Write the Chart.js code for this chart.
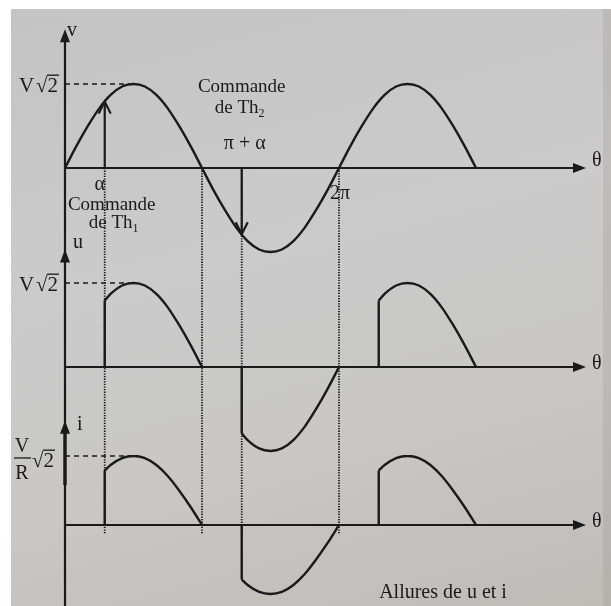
<!DOCTYPE html>
<html lang="fr">
<head>
    <meta charset="UTF-8">
    <title>Allures de u et i</title>
    <style>
        html, body { margin: 0; padding: 0; background: #fff; }
        #wrap { position: relative; width: 611px; height: 606px; overflow: hidden; }
        #paper {
            position: absolute; left: 11px; top: 9px; right: 0; bottom: 0;
            background: linear-gradient(165deg, #c4c4c5 0%, #cbcbcb 40%, #c8c7c6 70%, #bfbbb7 100%);
        }
        #edge { position: absolute; left: 603px; top: 9px; width: 8px; bottom: 0; background: rgba(150, 146, 142, 0.25); }
        #chart { position: absolute; left: 0; top: 0; }
    </style>
</head>
<body>
    <div id="wrap">
        <div id="paper"></div>
        <div id="edge"></div>
        <canvas id="chart" width="611" height="606"></canvas>
    </div>

    <script src="https://cdn.jsdelivr.net/npm/chart.js"></script>
    <script>
        // θ sampled every π/12, in multiples of π
        const theta = [0, 0.083, 0.167, 0.25, 0.333, 0.417, 0.5, 0.583, 0.667, 0.75, 0.833, 0.917,
                       1, 1.083, 1.167, 1.25, 1.333, 1.417, 1.5, 1.583, 1.667, 1.75, 1.833, 1.917,
                       2, 2.083, 2.167, 2.25, 2.333, 2.417, 2.5, 2.583, 2.667, 2.75, 2.833, 2.917, 3];

        // supply voltage v, in units of V√2
        const vValues = [0, 0.26, 0.5, 0.71, 0.87, 0.97, 1, 0.97, 0.87, 0.71, 0.5, 0.26,
                         0, -0.26, -0.5, -0.71, -0.87, -0.97, -1, -0.97, -0.87, -0.71, -0.5, -0.26,
                         0, 0.26, 0.5, 0.71, 0.87, 0.97, 1, 0.97, 0.87, 0.71, 0.5, 0.26, 0];

        // thyristor firing instants (α, π+α, 2π+α) and v at those instants
        const firing = [0.29, 1.29, 2.29];
        const vAtFiring = [0.79, -0.79, 0.79];
        // each conduction ends at the next zero of v
        const conductionEnd = [1, 2, 3];

        // labels on the θ axis
        const markTheta = [0.29, 1.29, 2];
        const markLabels = ['α', 'π + α', '2π'];

        const INK = '#1a1a1a';
        const SERIF = '"Liberation Serif", "DejaVu Serif", serif';

        // u (and i = u/R) : one hump per conduction interval
        function humps() {
            return firing.map((f, k) => {
                const pts = [{ x: f, y: vAtFiring[k] }];
                theta.forEach((t, j) => {
                    if (t > f && t <= conductionEnd[k]) pts.push({ x: t, y: vValues[j] });
                });
                return pts;
            });
        }

        function curve(data, axis, smooth) {
            return {
                data: data,
                yAxisID: axis,
                borderColor: INK,
                borderWidth: 2.4,
                pointRadius: 0,
                fill: false,
                tension: 0,
                cubicInterpolationMode: smooth ? 'monotone' : 'default'
            };
        }

        const datasets = [curve(theta.map((t, j) => ({ x: t, y: vValues[j] })), 'yv', true)];
        ['yu', 'yi'].forEach(axis => {
            humps().forEach(h => datasets.push(curve(h, axis, true)));
            firing.forEach((f, k) => datasets.push(curve([{ x: f, y: 0 }, { x: f, y: vAtFiring[k] }], axis, false)));
        });

        function filledHead(ctx, x, y, dir) {
            ctx.beginPath();
            if (dir === 'up') {
                ctx.moveTo(x, y); ctx.lineTo(x - 5, y + 13); ctx.lineTo(x + 5, y + 13);
            } else {
                ctx.moveTo(x, y); ctx.lineTo(x - 13, y - 5); ctx.lineTo(x - 13, y + 5);
            }
            ctx.closePath();
            ctx.fill();
        }

        // open "V" arrow head, dy = 1 pointing down, -1 pointing up
        function openHead(ctx, x, y, dy) {
            ctx.beginPath();
            ctx.moveTo(x - 6, y - dy * 12);
            ctx.lineTo(x, y);
            ctx.lineTo(x + 6, y - dy * 12);
            ctx.stroke();
        }

        // √2 with its overbar
        function root2(ctx, x, base, size) {
            ctx.font = size + 'px ' + SERIF;
            ctx.textAlign = 'left';
            ctx.fillText('√', x, base);
            const w = ctx.measureText('√').width;
            ctx.fillText('2', x + w, base);
            const w2 = ctx.measureText('2').width;
            ctx.lineWidth = 1.3;
            ctx.beginPath();
            ctx.moveTo(x + w - 0.5, base - size * 0.8);
            ctx.lineTo(x + w + w2 + 1, base - size * 0.8);
            ctx.stroke();
        }

        function text(ctx, str, x, y, size, align) {
            ctx.font = size + 'px ' + SERIF;
            ctx.textAlign = align || 'center';
            ctx.fillText(str, x, y);
        }

        // "de Th" with an index
        function thLabel(ctx, idx, cx, y) {
            ctx.font = '19px ' + SERIF;
            const w = ctx.measureText('de Th').width;
            ctx.font = '12px ' + SERIF;
            const ws = ctx.measureText(idx).width;
            const x0 = cx - (w + ws) / 2;
            text(ctx, 'de Th', x0, y, 19, 'left');
            text(ctx, idx, x0 + w, y + 4, 12, 'left');
        }

        const schema = {
            id: 'schema',
            beforeDatasetsDraw(chart) {
                const { ctx, chartArea } = chart;
                const x = chart.scales.x, yv = chart.scales.yv, yu = chart.scales.yu, yi = chart.scales.yi;
                ctx.save();
                ctx.strokeStyle = INK;

                // dotted guides at α, π, π+α, 2π
                ctx.lineWidth = 1.8;
                ctx.setLineDash([1.3, 1.3]);
                [firing[0], 1, firing[1], 2].forEach(t => {
                    const px = x.getPixelForValue(t);
                    ctx.beginPath();
                    ctx.moveTo(px, yv.getPixelForValue(0));
                    ctx.lineTo(px, yi.getPixelForValue(-0.12));
                    ctx.stroke();
                });

                // dashed peak levels
                ctx.lineWidth = 1.4;
                ctx.setLineDash([5, 4]);
                [yv, yu, yi].forEach(s => {
                    const py = s.getPixelForValue(1);
                    ctx.beginPath();
                    ctx.moveTo(chartArea.left, py);
                    ctx.lineTo(x.getPixelForValue(0.47), py);
                    ctx.stroke();
                });
                ctx.setLineDash([]);

                // vertical axis, shared by the three graphs
                const x0 = x.getPixelForValue(0);
                ctx.lineWidth = 2.2;
                ctx.beginPath();
                ctx.moveTo(x0, yv.getPixelForValue(1.6));
                ctx.lineTo(x0, chart.height);
                ctx.stroke();
                ctx.lineWidth = 3.4;
                ctx.beginPath();
                ctx.moveTo(x0, yi.getPixelForValue(1.45));
                ctx.lineTo(x0, yi.getPixelForValue(0.58));
                ctx.stroke();

                // θ axes
                ctx.lineWidth = 2.2;
                [yv, yu, yi].forEach(s => {
                    const py = s.getPixelForValue(0);
                    ctx.beginPath();
                    ctx.moveTo(x0, py);
                    ctx.lineTo(chartArea.right - 8, py);
                    ctx.stroke();
                });
                ctx.restore();
            },
            afterDatasetsDraw(chart) {
                const { ctx, chartArea } = chart;
                const x = chart.scales.x, yv = chart.scales.yv, yu = chart.scales.yu, yi = chart.scales.yi;
                const x0 = x.getPixelForValue(0);
                ctx.save();
                ctx.fillStyle = INK;
                ctx.strokeStyle = INK;
                ctx.textBaseline = 'alphabetic';

                // arrow heads of the axes
                filledHead(ctx, x0, yv.getPixelForValue(1.65), 'up');
                filledHead(ctx, x0, yu.getPixelForValue(1.4), 'up');
                filledHead(ctx, x0, yi.getPixelForValue(1.51), 'up');
                [yv, yu, yi].forEach(s => filledHead(ctx, chartArea.right, s.getPixelForValue(0), 'right'));

                // firing commands on v
                ctx.lineWidth = 2.2;
                [0, 1].forEach(k => {
                    const px = x.getPixelForValue(firing[k]);
                    const tip = yv.getPixelForValue(vAtFiring[k]);
                    ctx.beginPath();
                    ctx.moveTo(px, yv.getPixelForValue(0));
                    ctx.lineTo(px, tip);
                    ctx.stroke();
                    openHead(ctx, px, tip, vAtFiring[k] > 0 ? -1 : 1);
                });

                // axis names
                text(ctx, 'v', x0 + 2, yv.getPixelForValue(1.57), 20, 'left');
                text(ctx, 'u', x0 + 8, yu.getPixelForValue(1.42), 20, 'left');
                text(ctx, 'i', x0 + 12, yi.getPixelForValue(1.38), 20, 'left');
                [yv, yu, yi].forEach(s => text(ctx, 'θ', chartArea.right + 6, s.getPixelForValue(0) - 2 + (s === yv ? 0 : 4), 20, 'left'));

                // peak values
                [yv, yu].forEach(s => {
                    const base = s.getPixelForValue(1) + 8;
                    text(ctx, 'V', 19, base, 21, 'left');
                    root2(ctx, 36, base, 21);
                });
                const pi = yi.getPixelForValue(1);
                text(ctx, 'V', 22, pi - 4, 20, 'center');
                ctx.lineWidth = 1.3;
                ctx.beginPath();
                ctx.moveTo(14, pi + 2);
                ctx.lineTo(31, pi + 2);
                ctx.stroke();
                text(ctx, 'R', 22, pi + 23, 20, 'center');
                root2(ctx, 32, pi + 11, 21);

                // θ marks
                const vz = yv.getPixelForValue(0);
                text(ctx, markLabels[0], x.getPixelForValue(markTheta[0]) - 5, vz + 22, 20);
                text(ctx, markLabels[1], x.getPixelForValue(markTheta[1]) + 3, vz - 19, 20);
                text(ctx, markLabels[2], x.getPixelForValue(markTheta[2]) + 1, vz + 31, 20);

                // firing commands
                const a1 = x.getPixelForValue(firing[0]);
                text(ctx, 'Commande', a1 + 7, vz + 42, 19);
                thLabel(ctx, '1', a1 + 9, vz + 60);
                const a2 = x.getPixelForValue(firing[1]);
                text(ctx, 'Commande', a2, vz - 76, 19);
                thLabel(ctx, '2', a2 - 2, vz - 55);

                // caption
                text(ctx, 'Allures de u et i', 443, 598, 20);
                ctx.restore();
            }
        };

        new Chart(document.getElementById('chart'), {
            type: 'line',
            data: { datasets: datasets },
            options: {
                responsive: false,
                animation: false,
                layout: { padding: { left: 65, right: 25, top: 25, bottom: 6 } },
                plugins: { legend: { display: false }, tooltip: { enabled: false } },
                scales: {
                    x: { type: 'linear', min: 0, max: 3.803, display: false },
                    yv: { type: 'linear', display: false, position: 'left', stack: 'graphs', stackWeight: 237, weight: 3, min: -1.119, max: 1.702 },
                    yu: { type: 'linear', display: false, position: 'left', stack: 'graphs', stackWeight: 193, weight: 2, min: -1.048, max: 1.25 },
                    yi: { type: 'linear', display: false, position: 'left', stack: 'graphs', stackWeight: 145, weight: 1, min: -1.087, max: 1.014 }
                }
            },
            plugins: [schema]
        });
    </script>
</body>
</html>
